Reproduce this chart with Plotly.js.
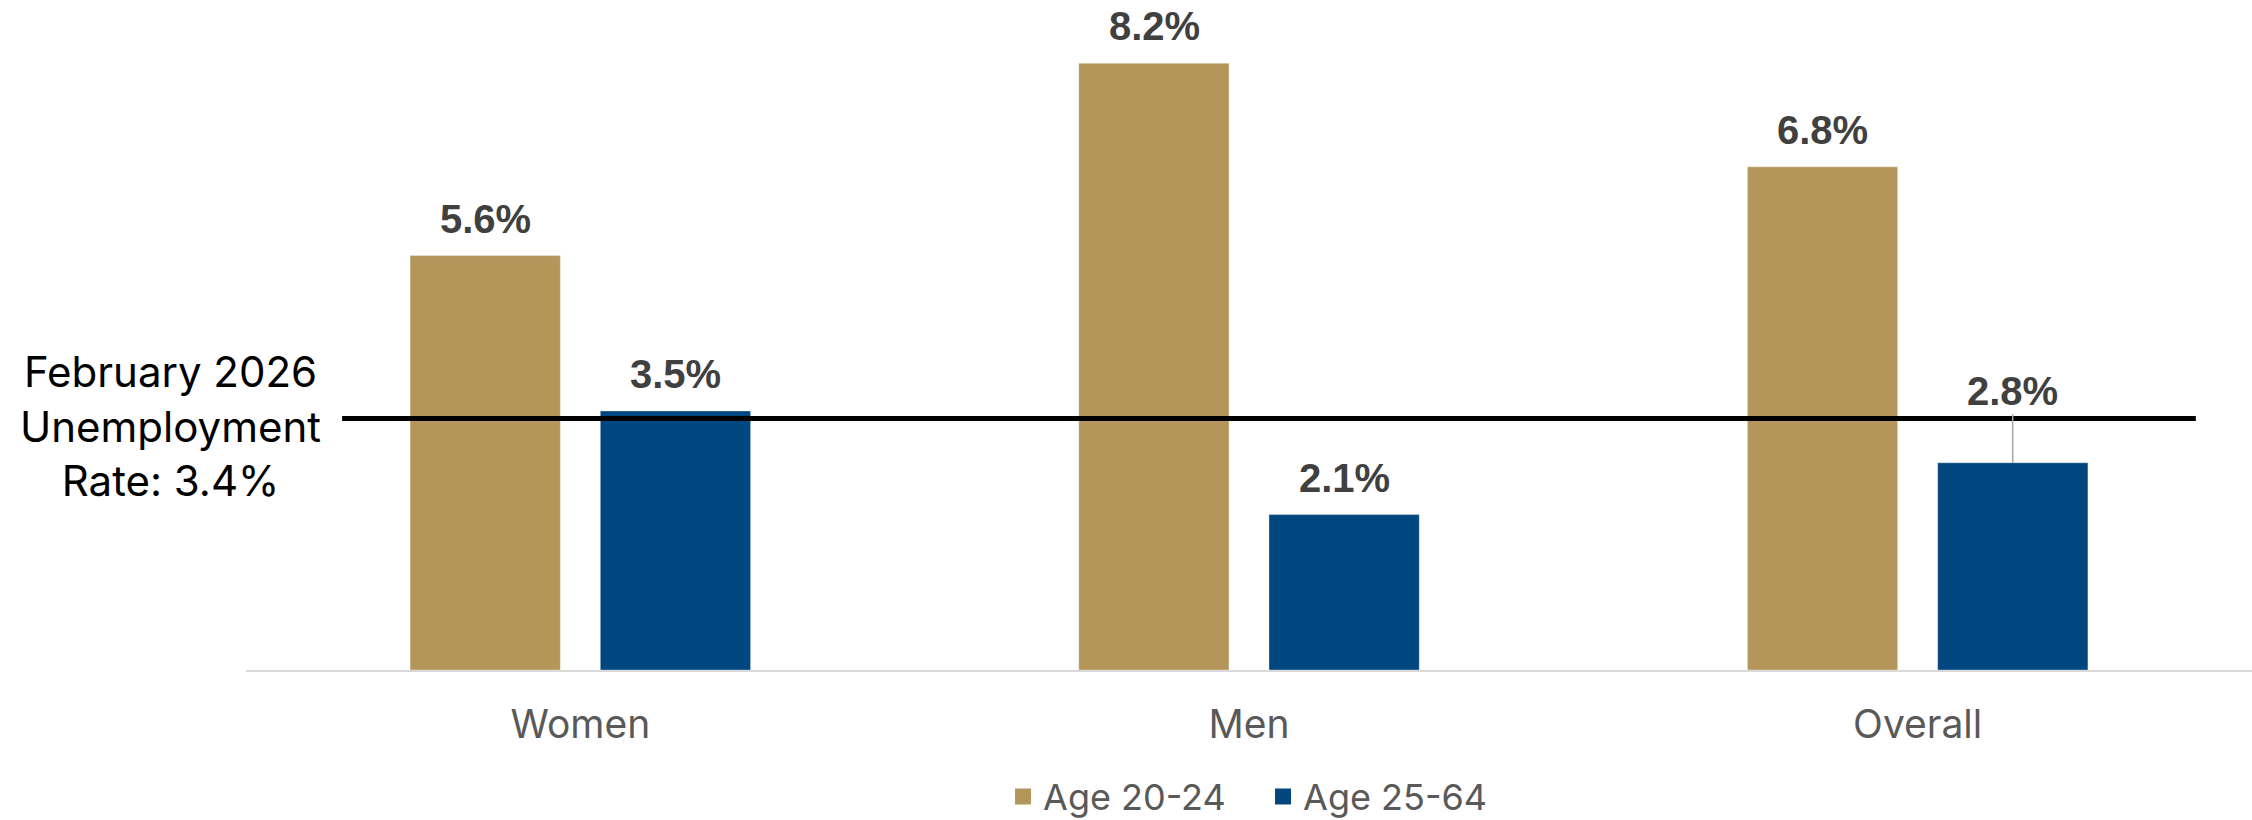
<!DOCTYPE html>
<html>
<head>
<meta charset="utf-8">
<script src="https://cdn.plot.ly/plotly-3.0.1.min.js"></script>
<style>html,body{margin:0;padding:0;background:#fff;}</style>
</head>
<body>
<div id="chart" style="width:2252px;height:820px;"></div>
<script>
const categories = ["Women", "Men", "Overall"];
const age2024 = [5.6, 8.2, 6.8];
const age2564 = [3.5, 2.1, 2.8];
const seriesNames = ["Age 20-24", "Age 25-64"];
const februaryRate = 3.4;
const rateLabel = "February 2026<br>Unemployment<br>Rate: 3.4%";

const GOLD = "#B5965A";
const BLUE = "#00467F";
const COLORS = [GOLD, BLUE];
const REG_FONT = "Inter, 'Open Sans', sans-serif";

const series = [age2024, age2564];
const traces = [];
series.forEach((vals, s) => {
  traces.push({type: "bar", name: seriesNames[s], x: categories, y: vals, showlegend: false,
    marker: {color: COLORS[s], line: {color: "rgba(255,255,255,0.35)", width: 1}}, hoverinfo: "skip"});
});
series.forEach((vals, s) => {
  traces.push({type: "scatter", mode: "markers", name: seriesNames[s], x: [null], y: [null],
    marker: {symbol: "square", size: 22, color: COLORS[s]}, hoverinfo: "skip", showlegend: true});
});

const annotations = [];
series.forEach((vals, s) => {
  vals.forEach((v, i) => {
    const leader = (s === 1 && i === 2);
    const a = {
      xref: "x", yref: "y", x: categories[i], y: v,
      xshift: s === 0 ? -95 : 95,
      text: v.toFixed(1) + "%",
      font: {family: "'Liberation Sans', Arial, sans-serif", size: 40, color: "#404040", weight: "bold"},
      showarrow: false
    };
    if (leader) {
      a.showarrow = true; a.ax = 0; a.ay = -72; a.arrowhead = 0;
      a.arrowcolor = "#A6A6A6"; a.arrowwidth = 1.5; a.standoff = 0;
    } else {
      a.yshift = 37; a.yanchor = "middle";
    }
    annotations.push(a);
  });
});
annotations.push({
  xref: "paper", yref: "y", x: -0.0374, y: februaryRate, yshift: -8,
  xanchor: "center", yanchor: "middle", align: "center",
  text: rateLabel, showarrow: false,
  font: {family: REG_FONT, size: 42, color: "#000000"}
});

const layout = {
  width: 2252, height: 820,
  margin: {l: 246, r: 0, t: 4, b: 150, autoexpand: false},
  paper_bgcolor: "#ffffff", plot_bgcolor: "#ffffff",
  barmode: "group", bargap: 0.431, bargroupgap: 0.21,
  showlegend: true,
  legend: {orientation: "h", x: 0.507, xanchor: "center", y: -0.19, yanchor: "middle",
           font: {family: REG_FONT, size: 36, color: "#595959"}, itemwidth: 30,
           entrywidth: 215, itemsizing: "trace", tracegroupgap: 0},
  xaxis: {type: "category", showline: true, linecolor: "#D9D9D9", linewidth: 2,
          ticks: "", ticklabelstandoff: 19, showgrid: false, zeroline: false,
          tickfont: {family: REG_FONT, size: 39, color: "#595959"}},
  yaxis: {range: [0, 9], visible: false, showgrid: false, zeroline: false},
  shapes: [{type: "line", xref: "paper", yref: "y", x0: 0.0479, x1: 0.972,
            y0: februaryRate, y1: februaryRate, line: {color: "#000000", width: 5}, layer: "above"}],
  annotations: annotations
};

Plotly.newPlot("chart", traces, layout, {displayModeBar: false, staticPlot: true});
</script>
</body>
</html>
